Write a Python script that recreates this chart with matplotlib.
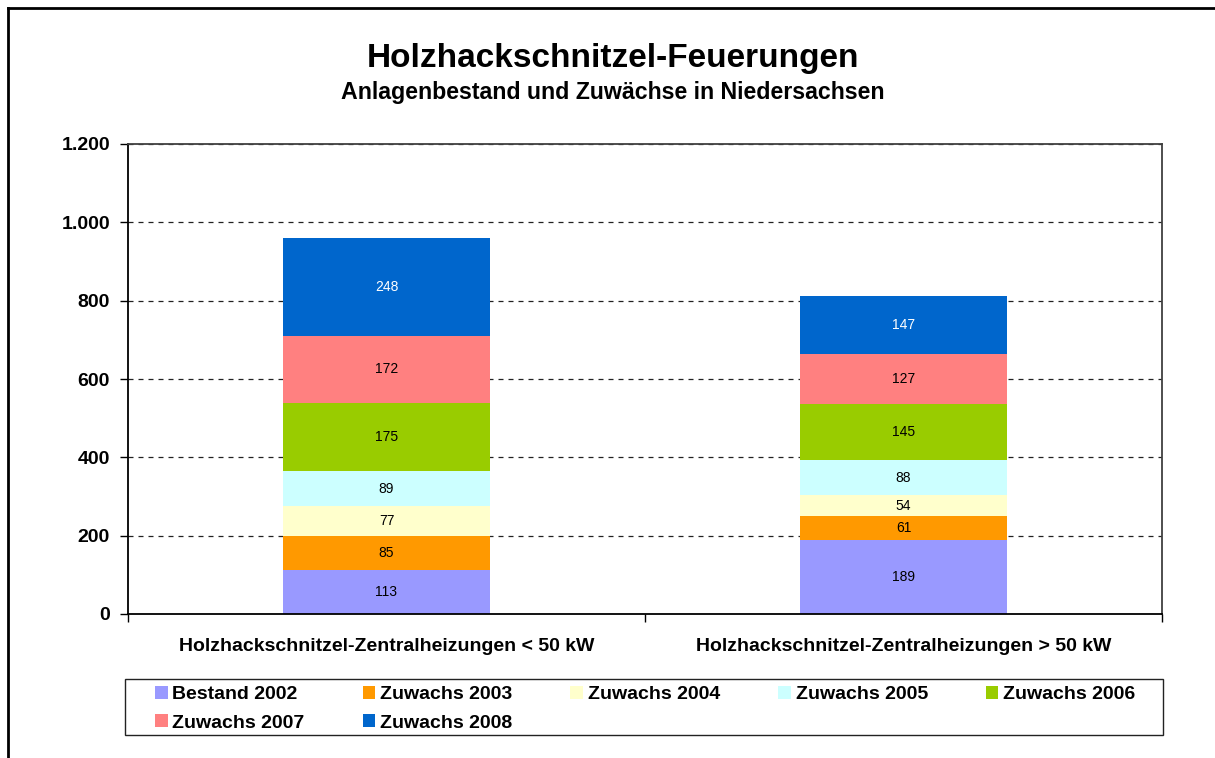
import matplotlib
matplotlib.use("Agg")
import matplotlib.pyplot as plt
from matplotlib.patches import Rectangle, Patch
from matplotlib.lines import Line2D
from matplotlib.ticker import FuncFormatter, FixedLocator
import numpy as np

plt.rcParams['font.family'] = ['Liberation Sans', 'DejaVu Sans']

categories = ["Holzhackschnitzel-Zentralheizungen < 50 kW",
              "Holzhackschnitzel-Zentralheizungen > 50 kW"]
series_names = ["Bestand 2002", "Zuwachs 2003", "Zuwachs 2004", "Zuwachs 2005",
                "Zuwachs 2006", "Zuwachs 2007", "Zuwachs 2008"]
bestand_2002 = [113, 189]
zuwachs_2003 = [85, 61]
zuwachs_2004 = [77, 54]
zuwachs_2005 = [89, 88]
zuwachs_2006 = [175, 145]
zuwachs_2007 = [172, 127]
zuwachs_2008 = [248, 147]
series_values = [bestand_2002, zuwachs_2003, zuwachs_2004, zuwachs_2005,
                 zuwachs_2006, zuwachs_2007, zuwachs_2008]
colors = ["#9999FF", "#FF9900", "#FFFFCC", "#CCFFFF", "#99CC00", "#FF8080", "#0066CC"]
label_colors = ["black", "black", "black", "black", "black", "black", "white"]
y_ticks = [0, 200, 400, 600, 800, 1000, 1200]

W, H = 1215, 758
fig = plt.figure(figsize=(W / 100, H / 100), dpi=100)

def fx(px):
    return px / W

def fy(py):
    return 1 - py / H

ax = fig.add_axes([fx(128), fy(614), fx(1162) - fx(128), fy(144) - fy(614)])

x = np.arange(len(categories))
bottom = np.zeros(len(categories))
handles = []
for name, vals, col, lc in zip(series_names, series_values, colors, label_colors):
    bars = ax.bar(x, vals, width=0.4, bottom=bottom, color=col, edgecolor='none',
                  label=name, zorder=3)
    ax.bar_label(bars, labels=[str(v) for v in vals], label_type='center',
                 color=lc, fontsize=10)
    handles.append(Patch(facecolor=col, edgecolor='none', label=name))
    bottom += np.array(vals)

ax.set_xlim(-0.5, len(categories) - 0.5)
ax.set_ylim(0, 1200)
ax.yaxis.set_major_locator(FixedLocator(y_ticks))
ax.yaxis.set_major_formatter(FuncFormatter(lambda v, p: f"{int(v):,}".replace(",", ".")))
ax.set_xticks(x)
ax.set_xticklabels(categories)
ax.set_xticks([-0.5, 0.5, 1.5], minor=True)
ax.tick_params(axis='x', which='major', length=0, pad=17)
ax.tick_params(axis='x', which='minor', length=6, width=1, direction='out', color='black')
ax.tick_params(axis='y', length=6, width=1, direction='out', pad=7)
for lab in ax.get_xticklabels() + ax.get_yticklabels():
    lab.set_fontsize(14)
    lab.set_fontweight('bold')

ax.yaxis.grid(True, color='#222222', linewidth=0.9, linestyle=(0, (4, 4)), zorder=1)
for s in ['left', 'bottom']:
    ax.spines[s].set_color('black')
    ax.spines[s].set_linewidth(1.3)
for s in ['top', 'right']:
    ax.spines[s].set_color('#404040')
    ax.spines[s].set_linewidth(1.3)
ax.spines['bottom'].set_zorder(5)

# titles
fig.text(fx(613), fy(58), "Holzhackschnitzel-Feuerungen", ha='center', va='center',
         fontsize=24, fontweight='bold')
fig.text(fx(613), fy(93), "Anlagenbestand und Zuwächse in Niedersachsen", ha='center',
         va='center', fontsize=16.7, fontweight='bold')

# legend
order = [0, 5, 1, 6, 2, 3, 4]
leg = fig.legend([handles[i] for i in order], [series_names[i] for i in order],
                 ncol=5, loc='upper left', bbox_to_anchor=(fx(155), fy(686)),
                 frameon=False, borderpad=0, borderaxespad=0,
                 prop={'weight': 'bold', 'size': 14},
                 handlelength=0.65, handleheight=0.65, handletextpad=0.25,
                 columnspacing=2.98, labelspacing=0.56)
fig.patches.append(Rectangle((fx(125), fy(735)), fx(1163) - fx(125), fy(679) - fy(735),
                             transform=fig.transFigure, fill=False,
                             edgecolor='#222222', linewidth=1.0))

# outer border (left and top)
fig.lines.append(Line2D([fx(8), fx(8)], [0, fy(8)], transform=fig.transFigure,
                        color='black', linewidth=2))
fig.lines.append(Line2D([fx(8), 1], [fy(8), fy(8)], transform=fig.transFigure,
                        color='black', linewidth=2))

fig.savefig("out.png", dpi=100)
